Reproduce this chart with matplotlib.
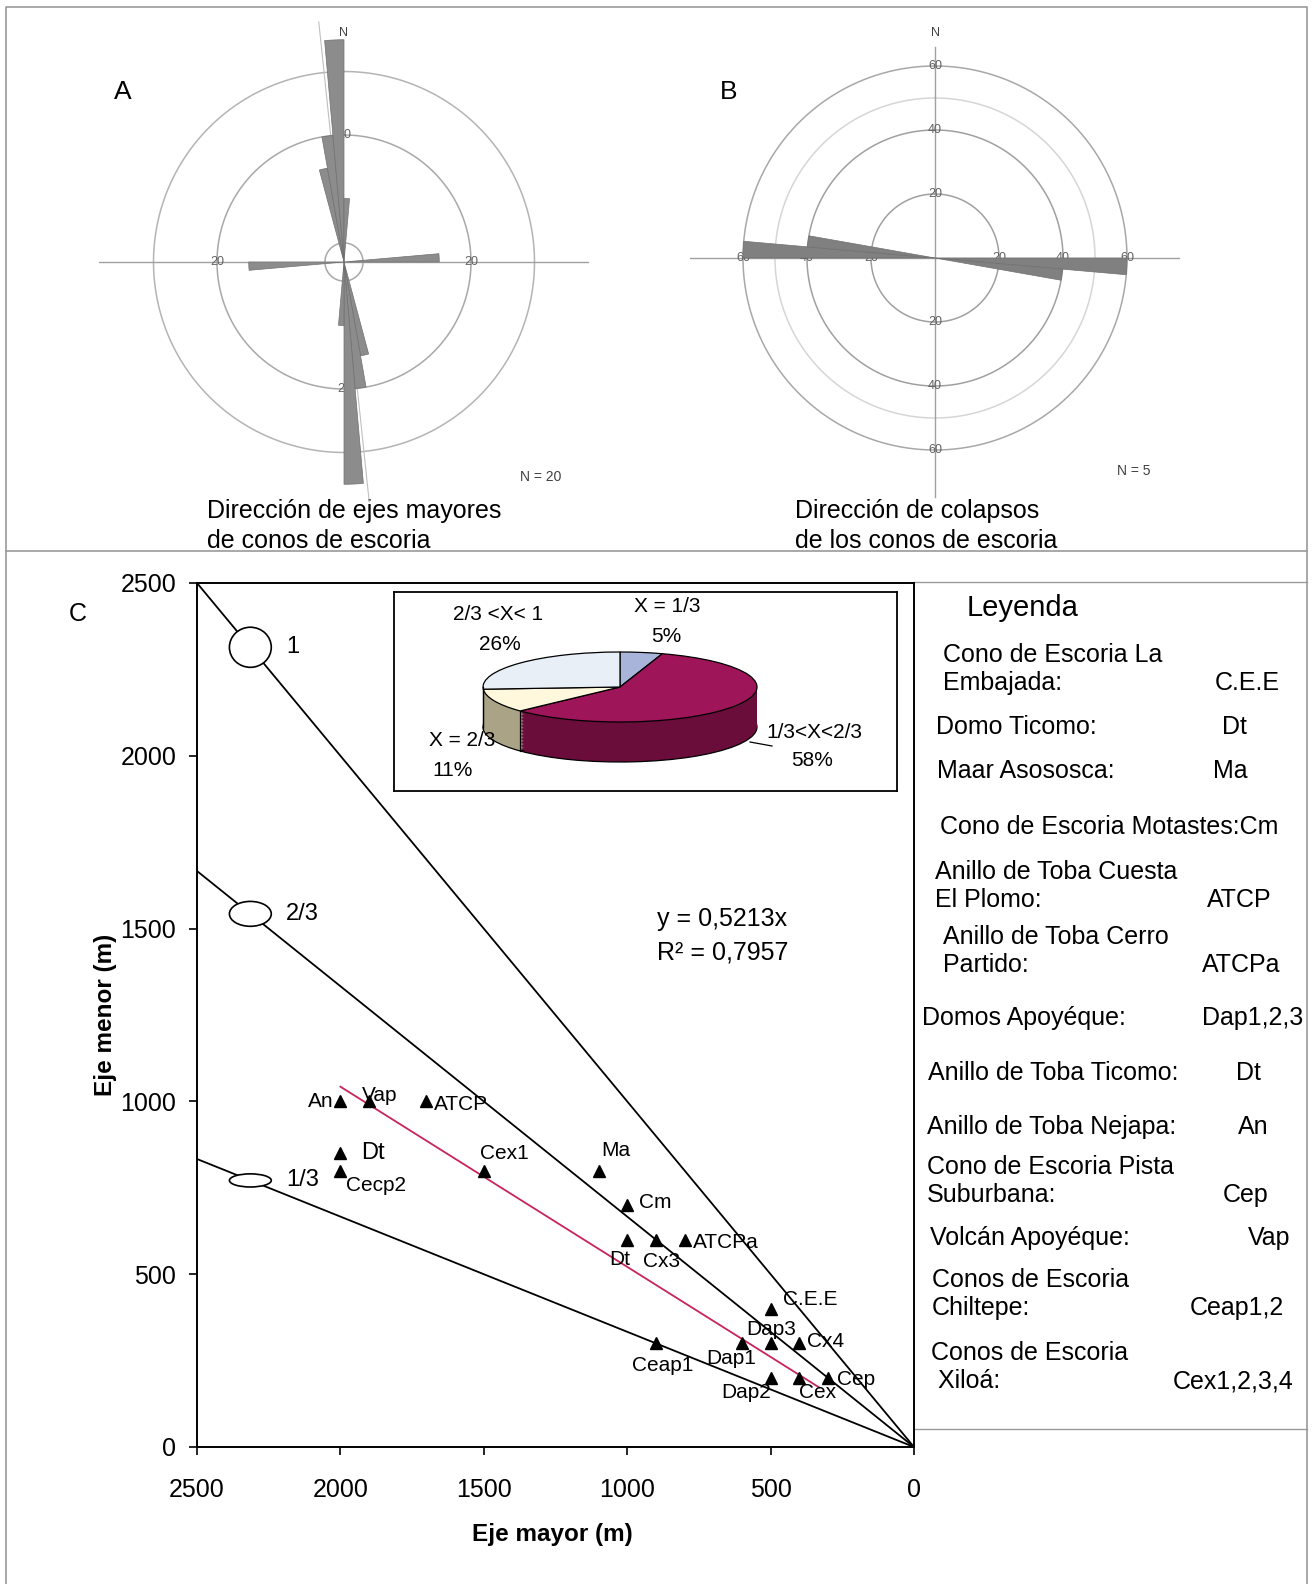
import numpy as np
import matplotlib
matplotlib.use("Agg")
import matplotlib.pyplot as plt
from matplotlib.patches import Ellipse

plt.rcParams["font.family"] = ["Liberation Sans", "DejaVu Sans"]

W, H = 1312, 1584

# --- data -----------------------------------------------------------------
# rose A: axial data, 5 degree bins (values mirrored at +180)
rose_a_bins = [345, 350, 355, 0, 85]
rose_a_freq = [15, 20, 35, 10, 15]
# rose B
rose_b_bins = [90, 95]
rose_b_freq = [60, 40]

pie_labels = ["X = 1/3", "1/3<X<2/3", "X = 2/3", "2/3 <X< 1"]
pie_pct = [5, 58, 11, 26]

cone_names = ["An", "Vap", "ATCP", "Dt", "Cecp2", "Cex1", "Ma", "Cm", "Dt", "Cx3",
              "ATCPa", "C.E.E", "Dap3", "Cx4", "Dap1", "Ceap1", "Dap2", "Cex", "Cep"]
eje_mayor = [2000, 1900, 1700, 2000, 2000, 1500, 1100, 1000, 1000, 900,
             800, 500, 500, 400, 600, 900, 500, 400, 300]
eje_menor = [1000, 1000, 1000, 850, 800, 800, 800, 700, 600, 600,
             600, 400, 300, 300, 300, 300, 200, 200, 200]

ratio_vals = [1, 2 / 3, 1 / 3]
ratio_labels = ["1", "2/3", "1/3"]
fit_slope = 0.5213
fit_r2 = 0.7957
fit_x = [2000, 330]

legend_items = [
    (["Cono de Escoria La", "Embajada:"], "C.E.E"),
    (["Domo Ticomo:"], "Dt"),
    (["Maar Asososca:"], "Ma"),
    (["Cono de Escoria Motastes:Cm"], ""),
    (["Anillo de Toba Cuesta", "El Plomo:"], "ATCP"),
    (["Anillo de Toba Cerro", "Partido:"], "ATCPa"),
    (["Domos Apoyéque:"], "Dap1,2,3"),
    (["Anillo de Toba Ticomo:"], "Dt"),
    (["Anillo de Toba Nejapa:"], "An"),
    (["Cono de Escoria Pista", "Suburbana:"], "Cep"),
    (["Volcán Apoyéque:"], "Vap"),
    (["Conos de Escoria", "Chiltepe:"], "Ceap1,2"),
    (["Conos de Escoria", " Xiloá:"], "Cex1,2,3,4"),
]

# --- layout (pixels from top-left) ------------------------------------------
label_offsets = [(-7, 0), (-7, 6), (8, -3), (21, 0), (6, -15), (-4, 17), (3, 20),
                 (12, 3), (-18, -20), (-13, -22), (8, -3), (12, 9), (-24, 14),
                 (8, 2), (-36, -15), (-24, -22), (-49, -15), (0, -15), (9, -2)]
legend_pos = [(655, 943, 1215), (727, 936, 1222), (771, 937, 1213), (827, 940, 0),
              (872, 935, 1207), (937, 943, 1202), (1018, 922, 1202), (1073, 928, 1236),
              (1127, 927, 1238), (1167, 927, 1223), (1238, 930, 1248),
              (1280, 932, 1190), (1353, 931, 1173)]


def frac(x0, y0, x1, y1):
    return [x0 / W, 1 - y1 / H, (x1 - x0) / W, (y1 - y0) / H]


fig = plt.figure(figsize=(W / 100, H / 100), dpi=100)
ax_bg = fig.add_axes([0, 0, 1, 1])
ax_bg.set_xlim(0, W)
ax_bg.set_ylim(H, 0)
ax_bg.axis("off")

frame_c = "#9a9a9a"
ax_bg.plot([6, 6, 1307, 1307], [H, 7, 7, H], color=frame_c, lw=1.2)
ax_bg.plot([6, 1307], [551, 551], color=frame_c, lw=1.2)
ax_bg.plot([914, 1307], [582, 582], color=frame_c, lw=1.0)
ax_bg.plot([914, 1307], [1429, 1429], color=frame_c, lw=1.0)


def rose(center, scale, rmax, bins, freqs, rings, ring_labels, color):
    cx, cy = center
    half = rmax * scale
    ax = fig.add_axes(frac(cx - half, cy - half, cx + half, cy + half), projection="polar")
    ax.set_theta_zero_location("N")
    ax.set_theta_direction(-1)
    ax.set_facecolor("none")
    ax.spines["polar"].set_visible(False)
    ax.set_xticks([])
    ax.set_yticks([])
    ax.grid(False)
    th = np.linspace(0, 2 * np.pi, 361)
    for r, c in rings:
        ax.plot(th, np.full_like(th, r), color=c, lw=1.1, zorder=1)
    for a in (90, 270):
        ax.plot([np.radians(a)] * 2, [0, rmax], color="#a0a0a0", lw=1.0, zorder=1)
    for r in ring_labels:
        for a in (0, 90, 180, 270):
            ax.text(np.radians(a), r, str(r), ha="center", va="center",
                    fontsize=9, color="#606060", zorder=2)
    ang = np.radians(np.concatenate([bins, (np.array(bins) + 180) % 360]))
    ax.bar(ang, list(freqs) * 2, width=np.radians(5), align="edge",
           color=color, edgecolor="#707070", lw=0.5, zorder=3)
    ax.set_ylim(0, rmax)
    return ax


ax_a = rose((344, 262), 6.35, 38.6, rose_a_bins, rose_a_freq,
            [(3, "#a8a8a8"), (20, "#a8a8a8"), (30, "#b4b4b4")], [20], "#8c8c8c")
ax_a.plot([np.radians(354)] * 2, [0, 38], color="#c0c0c0", lw=0.8, zorder=1)
ax_a.plot([np.radians(174)] * 2, [0, 38], color="#c0c0c0", lw=0.8, zorder=1)

ax_b = rose((935, 258), 3.2, 76.6, rose_b_bins, rose_b_freq,
            [(20, "#a0a0a0"), (40, "#a0a0a0"), (50, "#d6d6d6"), (60, "#a8a8a8")],
            [20, 40, 60], "#808080")
ax_b.plot([0, 0], [0, 66], color="#a0a0a0", lw=1.0, zorder=1)
ax_b.plot([np.pi, np.pi], [0, 74.6], color="#a0a0a0", lw=1.0, zorder=1)

ax_bg.text(123, 92, "A", fontsize=19, ha="center", va="center")
ax_bg.text(729, 92, "B", fontsize=19, ha="center", va="center")
ax_bg.text(343, 33, "N", fontsize=9, ha="center", va="center", color="#404040")
ax_bg.text(935, 33, "N", fontsize=9, ha="center", va="center", color="#404040")
ax_bg.text(541, 477, "N = 20", fontsize=10, ha="center", va="center", color="#404040")
ax_bg.text(1134, 471, "N = 5", fontsize=10, ha="center", va="center", color="#404040")
ax_bg.text(207, 526, "Dirección de ejes mayores\nde conos de escoria", fontsize=18,
           ha="left", va="center", linespacing=1.3)
ax_bg.text(795, 526, "Dirección de colapsos\nde los conos de escoria", fontsize=18,
           ha="left", va="center", linespacing=1.3)
ax_bg.text(78, 614, "C", fontsize=18, ha="center", va="center")

# --- scatter C --------------------------------------------------------------
ax = fig.add_axes(frac(197, 583, 914, 1447))
ax.set_facecolor("none")
ax.set_xlim(2500, 0)
ax.set_ylim(0, 2500)
ticks = [0, 500, 1000, 1500, 2000, 2500]
ax.set_xticks(ticks)
ax.set_yticks(ticks)
ax.tick_params(axis="both", labelsize=18, length=6, width=1.2, direction="out")
ax.tick_params(axis="x", pad=16)
ax.tick_params(axis="y", pad=9)
for s in ax.spines.values():
    s.set_linewidth(1.4)

ell_h = [116, 72, 38]
for k, lab, eh in zip(ratio_vals, ratio_labels, ell_h):
    ax.plot([2500, 0], [2500 * k, 0], color="black", lw=1.3, zorder=2)
    ax.add_patch(Ellipse((2314, 2314 * k), 146, eh, facecolor="white",
                         edgecolor="black", lw=1.2, zorder=3))
    ax.text(2190, 2314 * k, lab, fontsize=17, ha="left", va="center")

fx = np.array(fit_x)
ax.plot(fx, fit_slope * fx, color="#c8245a", lw=1.3, zorder=2)
ax.plot(eje_mayor, eje_menor, "^", color="black", ms=9, zorder=4)
for name, x, y, off in zip(cone_names, eje_mayor, eje_menor, label_offsets):
    big = (name == "Dt" and x == 2000)
    ax.annotate(name, (x, y), xytext=off, textcoords="offset pixels",
                ha="right" if off[0] < 0 and name == "An" else "left",
                va="center", fontsize=17 if big else 15, zorder=5)

ax.text(895, 1527, f"y = {fit_slope:.4f}x".replace(".", ","), fontsize=18, va="center")
ax.text(895, 1431, f"R² = {fit_r2:.4f}".replace(".", ","), fontsize=18, va="center")

ax.set_xlabel("Eje mayor (m)", fontsize=17.5, fontweight="bold")
ax.set_ylabel("Eje menor (m)", fontsize=17.5, fontweight="bold")
ax.xaxis.set_label_coords(0.495, -0.088)
ax.yaxis.set_label_coords(-0.111, 0.5)

# --- pie inset ----------------------------------------------------------------
ax_pie = fig.add_axes(frac(394, 592, 897, 791))
ax_pie.set_zorder(3)
top_colors = ["#a9b4da", "#9e1559", "#fff8dc", "#e8eff7"]
side_colors = ["#7c86a8", "#6a0d3b", "#aaa386", "#b8c0c8"]
rx, ry, depth, pcx, pcy = 137, 35, 40, 620, 687
dz = depth / ry
n_layers = 28
for i in range(n_layers):
    off = -dz + dz * i / n_layers
    ax_pie.pie(pie_pct, colors=side_colors, startangle=90, counterclock=False,
               center=(0, off), frame=True,
               wedgeprops=dict(lw=0.9 if i == 0 else 0, edgecolor="black"))
ax_pie.pie(pie_pct, colors=top_colors, startangle=90, counterclock=False,
           center=(0, 0), frame=True, wedgeprops=dict(lw=0.9, edgecolor="black"))
edges = 90 - np.cumsum([0] + pie_pct) / 100 * 360
for a in np.radians(edges):
    if np.sin(a) < -0.01:
        ax_pie.plot([np.cos(a)] * 2, [np.sin(a), np.sin(a) - dz], color="black", lw=0.9)
ax_pie.plot([-1, -1], [0, -dz], color="black", lw=0.9)
ax_pie.set_aspect("auto")
ax_pie.set_xlim((394 - pcx) / rx, (897 - pcx) / rx)
ax_pie.set_ylim(-(791 - pcy) / ry, (pcy - 592) / ry)
ax_pie.set_xticks([])
ax_pie.set_yticks([])
ax_pie.set_facecolor("white")
for s in ax_pie.spines.values():
    s.set_visible(True)
    s.set_linewidth(1.3)
    s.set_color("black")

pie_text_pos = [(667, 606, 666, 636), (814, 733, 812, 760),
                (462, 740, 453, 770), (498, 615, 500, 644)]
for lab, pct, (x1, y1, x2, y2) in zip(pie_labels, pie_pct, pie_text_pos):
    ax_pie.text(x1, y1, lab, transform=ax_bg.transData, fontsize=15,
                ha="center", va="center")
    ax_pie.text(x2, y2, f"{pct}%", transform=ax_bg.transData, fontsize=15,
                ha="center", va="center")
ax_pie.plot([750, 772], [742, 746], color="black", lw=0.9, transform=ax_bg.transData)

# --- legend -------------------------------------------------------------------
ax_bg.text(967, 608, "Leyenda", fontsize=21, ha="left", va="center")
for (lines, abbr), (y, x, xa) in zip(legend_items, legend_pos):
    for j, line in enumerate(lines):
        ax_bg.text(x, y + 28 * j, line, fontsize=18, ha="left", va="center")
    if abbr:
        ax_bg.text(xa, y + 28 * (len(lines) - 1), abbr, fontsize=18,
                   ha="left", va="center")

fig.savefig("out.png", dpi=100)
